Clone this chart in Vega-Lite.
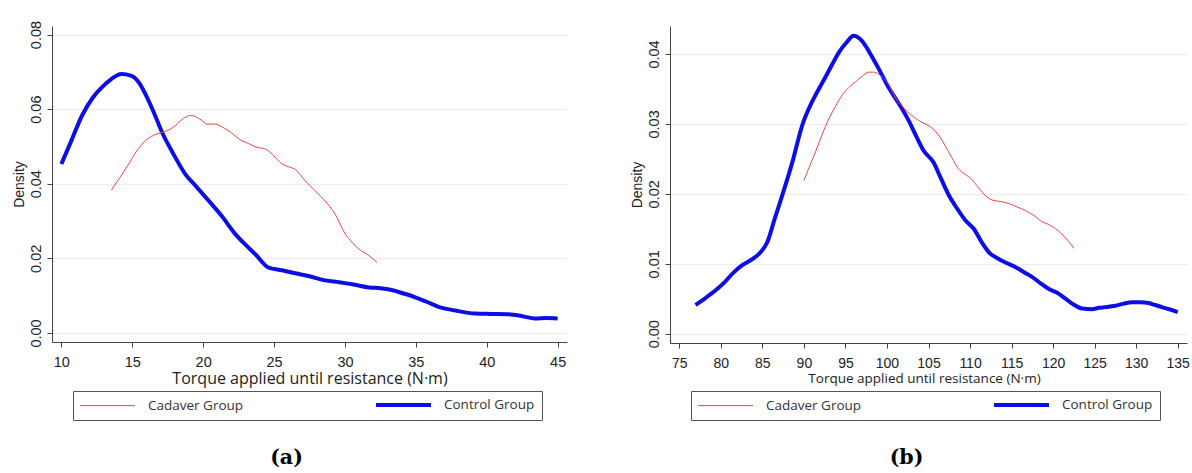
{
  "$schema": "https://vega.github.io/schema/vega-lite/v6.json",
  "background": "white",
  "padding": {"left": 12, "top": 20, "right": 5, "bottom": 0},
  "datasets": {
    "a": [
      {"group": "Control Group", "torque": 10, "density": 0.0453},
      {"group": "Control Group", "torque": 10.7, "density": 0.0515},
      {"group": "Control Group", "torque": 11.46, "density": 0.0583},
      {"group": "Control Group", "torque": 12.2, "density": 0.063},
      {"group": "Control Group", "torque": 12.87, "density": 0.0659},
      {"group": "Control Group", "torque": 13.5, "density": 0.068},
      {"group": "Control Group", "torque": 14.23, "density": 0.0694},
      {"group": "Control Group", "torque": 14.9, "density": 0.069},
      {"group": "Control Group", "torque": 15.5, "density": 0.067},
      {"group": "Control Group", "torque": 15.92, "density": 0.0641},
      {"group": "Control Group", "torque": 16.5, "density": 0.0593},
      {"group": "Control Group", "torque": 17.1, "density": 0.0538},
      {"group": "Control Group", "torque": 17.9, "density": 0.048},
      {"group": "Control Group", "torque": 18.74, "density": 0.0426},
      {"group": "Control Group", "torque": 19.5, "density": 0.0393},
      {"group": "Control Group", "torque": 20.4, "density": 0.0354},
      {"group": "Control Group", "torque": 21.3, "density": 0.0314},
      {"group": "Control Group", "torque": 22.27, "density": 0.0265},
      {"group": "Control Group", "torque": 23.0, "density": 0.0236},
      {"group": "Control Group", "torque": 23.68, "density": 0.0211},
      {"group": "Control Group", "torque": 24.62, "density": 0.0175},
      {"group": "Control Group", "torque": 25.56, "density": 0.0168},
      {"group": "Control Group", "torque": 26.5, "density": 0.016},
      {"group": "Control Group", "torque": 27.5, "density": 0.0152},
      {"group": "Control Group", "torque": 28.6, "density": 0.0141},
      {"group": "Control Group", "torque": 29.6, "density": 0.0136},
      {"group": "Control Group", "torque": 30.6, "density": 0.013},
      {"group": "Control Group", "torque": 31.7, "density": 0.0122},
      {"group": "Control Group", "torque": 32.5, "density": 0.012},
      {"group": "Control Group", "torque": 33.3, "density": 0.0115},
      {"group": "Control Group", "torque": 34.2, "density": 0.0105},
      {"group": "Control Group", "torque": 35.0, "density": 0.0095},
      {"group": "Control Group", "torque": 35.8, "density": 0.0083},
      {"group": "Control Group", "torque": 36.6, "density": 0.007},
      {"group": "Control Group", "torque": 37.8, "density": 0.006},
      {"group": "Control Group", "torque": 39.2, "density": 0.0052},
      {"group": "Control Group", "torque": 40.3, "density": 0.0051},
      {"group": "Control Group", "torque": 41.55, "density": 0.005},
      {"group": "Control Group", "torque": 42.5, "density": 0.0045},
      {"group": "Control Group", "torque": 43.4, "density": 0.0039},
      {"group": "Control Group", "torque": 44.2, "density": 0.004},
      {"group": "Control Group", "torque": 45, "density": 0.0039},
      {"group": "Cadaver Group", "torque": 13.53, "density": 0.0383},
      {"group": "Cadaver Group", "torque": 14.1, "density": 0.0415},
      {"group": "Cadaver Group", "torque": 14.75, "density": 0.0453},
      {"group": "Cadaver Group", "torque": 15.3, "density": 0.0487},
      {"group": "Cadaver Group", "torque": 15.92, "density": 0.0515},
      {"group": "Cadaver Group", "torque": 16.5, "density": 0.053},
      {"group": "Cadaver Group", "torque": 17.1, "density": 0.0538},
      {"group": "Cadaver Group", "torque": 17.6, "density": 0.0545},
      {"group": "Cadaver Group", "torque": 18.04, "density": 0.0556},
      {"group": "Cadaver Group", "torque": 18.6, "density": 0.0575},
      {"group": "Cadaver Group", "torque": 19.1, "density": 0.0583},
      {"group": "Cadaver Group", "torque": 19.45, "density": 0.058},
      {"group": "Cadaver Group", "torque": 19.9, "density": 0.057},
      {"group": "Cadaver Group", "torque": 20.27, "density": 0.056},
      {"group": "Cadaver Group", "torque": 20.86, "density": 0.056},
      {"group": "Cadaver Group", "torque": 21.3, "density": 0.0553},
      {"group": "Cadaver Group", "torque": 21.8, "density": 0.0542},
      {"group": "Cadaver Group", "torque": 22.3, "density": 0.0527},
      {"group": "Cadaver Group", "torque": 22.74, "density": 0.0515},
      {"group": "Cadaver Group", "torque": 23.2, "density": 0.0508},
      {"group": "Cadaver Group", "torque": 23.68, "density": 0.0499},
      {"group": "Cadaver Group", "torque": 24.39, "density": 0.0493},
      {"group": "Cadaver Group", "torque": 24.9, "density": 0.0478},
      {"group": "Cadaver Group", "torque": 25.56, "density": 0.0453},
      {"group": "Cadaver Group", "torque": 26.0, "density": 0.0446},
      {"group": "Cadaver Group", "torque": 26.5, "density": 0.0438},
      {"group": "Cadaver Group", "torque": 27.2, "density": 0.0408},
      {"group": "Cadaver Group", "torque": 27.9, "density": 0.0381},
      {"group": "Cadaver Group", "torque": 28.6, "density": 0.0354},
      {"group": "Cadaver Group", "torque": 29.3, "density": 0.0319},
      {"group": "Cadaver Group", "torque": 30.03, "density": 0.0265},
      {"group": "Cadaver Group", "torque": 30.5, "density": 0.0243},
      {"group": "Cadaver Group", "torque": 30.97, "density": 0.0225},
      {"group": "Cadaver Group", "torque": 31.56, "density": 0.0211},
      {"group": "Cadaver Group", "torque": 32.26, "density": 0.0189}
    ],
    "b": [
      {"group": "Control Group", "torque": 76.96, "density": 0.0041},
      {"group": "Control Group", "torque": 77.8, "density": 0.0048},
      {"group": "Control Group", "torque": 79.37, "density": 0.0062},
      {"group": "Control Group", "torque": 80.4, "density": 0.0073},
      {"group": "Control Group", "torque": 81.4, "density": 0.0086},
      {"group": "Control Group", "torque": 82.58, "density": 0.0098},
      {"group": "Control Group", "torque": 83.58, "density": 0.0105},
      {"group": "Control Group", "torque": 84.59, "density": 0.0114},
      {"group": "Control Group", "torque": 85.6, "density": 0.0131},
      {"group": "Control Group", "torque": 86.5, "density": 0.0165},
      {"group": "Control Group", "torque": 87.4, "density": 0.0198},
      {"group": "Control Group", "torque": 88.6, "density": 0.0245},
      {"group": "Control Group", "torque": 89.8, "density": 0.0298},
      {"group": "Control Group", "torque": 91.0, "density": 0.0332},
      {"group": "Control Group", "torque": 91.8, "density": 0.035},
      {"group": "Control Group", "torque": 92.6, "density": 0.0367},
      {"group": "Control Group", "torque": 93.4, "density": 0.0385},
      {"group": "Control Group", "torque": 94.2, "density": 0.0402},
      {"group": "Control Group", "torque": 95.1, "density": 0.0416},
      {"group": "Control Group", "torque": 96.0, "density": 0.0426},
      {"group": "Control Group", "torque": 96.7, "density": 0.0422},
      {"group": "Control Group", "torque": 97.4, "density": 0.0412},
      {"group": "Control Group", "torque": 98.2, "density": 0.0396},
      {"group": "Control Group", "torque": 99.0, "density": 0.0379},
      {"group": "Control Group", "torque": 100.2, "density": 0.0352},
      {"group": "Control Group", "torque": 101.0, "density": 0.0337},
      {"group": "Control Group", "torque": 101.8, "density": 0.0322},
      {"group": "Control Group", "torque": 102.6, "density": 0.0305},
      {"group": "Control Group", "torque": 103.5, "density": 0.0283},
      {"group": "Control Group", "torque": 104.4, "density": 0.0262},
      {"group": "Control Group", "torque": 105.6, "density": 0.0245},
      {"group": "Control Group", "torque": 106.5, "density": 0.0222},
      {"group": "Control Group", "torque": 107.45, "density": 0.0198},
      {"group": "Control Group", "torque": 108.5, "density": 0.0178},
      {"group": "Control Group", "torque": 109.45, "density": 0.0162},
      {"group": "Control Group", "torque": 110.45, "density": 0.015},
      {"group": "Control Group", "torque": 111.5, "density": 0.0129},
      {"group": "Control Group", "torque": 112.3, "density": 0.0116},
      {"group": "Control Group", "torque": 113.3, "density": 0.0108},
      {"group": "Control Group", "torque": 114.4, "density": 0.0101},
      {"group": "Control Group", "torque": 115.5, "density": 0.0095},
      {"group": "Control Group", "torque": 116.5, "density": 0.0088},
      {"group": "Control Group", "torque": 117.5, "density": 0.0081},
      {"group": "Control Group", "torque": 118.5, "density": 0.0072},
      {"group": "Control Group", "torque": 119.5, "density": 0.0064},
      {"group": "Control Group", "torque": 120.7, "density": 0.0057},
      {"group": "Control Group", "torque": 121.5, "density": 0.005},
      {"group": "Control Group", "torque": 122.3, "density": 0.0043},
      {"group": "Control Group", "torque": 123.5, "density": 0.0036},
      {"group": "Control Group", "torque": 124.7, "density": 0.0035},
      {"group": "Control Group", "torque": 125.5, "density": 0.0037},
      {"group": "Control Group", "torque": 126.3, "density": 0.0038},
      {"group": "Control Group", "torque": 127.5, "density": 0.004},
      {"group": "Control Group", "torque": 128.5, "density": 0.0043},
      {"group": "Control Group", "torque": 129.5, "density": 0.0045},
      {"group": "Control Group", "torque": 130.5, "density": 0.0045},
      {"group": "Control Group", "torque": 131.5, "density": 0.0044},
      {"group": "Control Group", "torque": 132.3, "density": 0.0041},
      {"group": "Control Group", "torque": 133.1, "density": 0.0038},
      {"group": "Control Group", "torque": 134.0, "density": 0.0035},
      {"group": "Control Group", "torque": 135, "density": 0.0031},
      {"group": "Cadaver Group", "torque": 90.0, "density": 0.0219},
      {"group": "Cadaver Group", "torque": 90.7, "density": 0.024},
      {"group": "Cadaver Group", "torque": 91.4, "density": 0.026},
      {"group": "Cadaver Group", "torque": 92.2, "density": 0.0285},
      {"group": "Cadaver Group", "torque": 93.0, "density": 0.0307},
      {"group": "Cadaver Group", "torque": 93.8, "density": 0.0325},
      {"group": "Cadaver Group", "torque": 94.6, "density": 0.0341},
      {"group": "Cadaver Group", "torque": 95.4, "density": 0.0352},
      {"group": "Cadaver Group", "torque": 96.2, "density": 0.036},
      {"group": "Cadaver Group", "torque": 97.0, "density": 0.0368},
      {"group": "Cadaver Group", "torque": 97.8, "density": 0.0374},
      {"group": "Cadaver Group", "torque": 98.4, "density": 0.0374},
      {"group": "Cadaver Group", "torque": 99.0, "density": 0.0371},
      {"group": "Cadaver Group", "torque": 99.6, "density": 0.0365},
      {"group": "Cadaver Group", "torque": 100.2, "density": 0.0357},
      {"group": "Cadaver Group", "torque": 100.6, "density": 0.0347},
      {"group": "Cadaver Group", "torque": 101.2, "density": 0.0334},
      {"group": "Cadaver Group", "torque": 101.8, "density": 0.0326},
      {"group": "Cadaver Group", "torque": 102.4, "density": 0.0318},
      {"group": "Cadaver Group", "torque": 103.0, "density": 0.0312},
      {"group": "Cadaver Group", "torque": 103.8, "density": 0.0305},
      {"group": "Cadaver Group", "torque": 104.6, "density": 0.03},
      {"group": "Cadaver Group", "torque": 105.2, "density": 0.0296},
      {"group": "Cadaver Group", "torque": 105.8, "density": 0.029},
      {"group": "Cadaver Group", "torque": 106.4, "density": 0.0281},
      {"group": "Cadaver Group", "torque": 107.0, "density": 0.0269},
      {"group": "Cadaver Group", "torque": 107.8, "density": 0.0252},
      {"group": "Cadaver Group", "torque": 108.6, "density": 0.0236},
      {"group": "Cadaver Group", "torque": 109.4, "density": 0.0228},
      {"group": "Cadaver Group", "torque": 110.2, "density": 0.0221},
      {"group": "Cadaver Group", "torque": 110.8, "density": 0.0212},
      {"group": "Cadaver Group", "torque": 111.5, "density": 0.0202},
      {"group": "Cadaver Group", "torque": 112.1, "density": 0.0195},
      {"group": "Cadaver Group", "torque": 112.7, "density": 0.0191},
      {"group": "Cadaver Group", "torque": 113.7, "density": 0.0189},
      {"group": "Cadaver Group", "torque": 114.7, "density": 0.0186},
      {"group": "Cadaver Group", "torque": 115.7, "density": 0.0181},
      {"group": "Cadaver Group", "torque": 116.7, "density": 0.0176},
      {"group": "Cadaver Group", "torque": 117.7, "density": 0.0169},
      {"group": "Cadaver Group", "torque": 118.7, "density": 0.016},
      {"group": "Cadaver Group", "torque": 119.5, "density": 0.0156},
      {"group": "Cadaver Group", "torque": 120.3, "density": 0.015},
      {"group": "Cadaver Group", "torque": 121.0, "density": 0.0143},
      {"group": "Cadaver Group", "torque": 121.5, "density": 0.0137},
      {"group": "Cadaver Group", "torque": 122.0, "density": 0.013},
      {"group": "Cadaver Group", "torque": 122.5, "density": 0.0122}
    ]
  },
  "spacing": 103,
  "bounds": "flush",
  "resolve": {
    "scale": {"color": "independent", "strokeWidth": "independent", "x": "independent", "y": "independent"},
    "legend": {"color": "independent", "strokeWidth": "independent"}
  },
  "hconcat": [
    {
      "width": 515,
      "height": 316,
      "title": {"text": "(a)", "orient": "bottom", "offset": 27, "dx": -23},
      "data": {"name": "a"},
      "mark": {"type": "line", "interpolate": "monotone"},
      "encoding": {
        "x": {
          "field": "torque", "type": "quantitative",
          "scale": {"domain": [9.34, 45.66], "nice": false, "zero": false},
          "axis": {"values": [10, 15, 20, 25, 30, 35, 40, 45], "title": "Torque applied until resistance (N·m)", "titleFontSize": 16, "titlePadding": 2}
        },
        "y": {
          "field": "density", "type": "quantitative",
          "scale": {"domain": [-0.00243, 0.0823], "nice": false, "zero": false},
          "axis": {"values": [0, 0.02, 0.04, 0.06, 0.08], "format": ".2f", "title": "Density"}
        },
        "color": {
          "field": "group", "type": "nominal",
          "scale": {"domain": ["Cadaver Group", "Control Group"], "range": ["#e8463f", "#0d0de6"]},
          "legend": {"title": null}
        },
        "strokeWidth": {
          "field": "group", "type": "ordinal",
          "scale": {"domain": ["Cadaver Group", "Control Group"], "range": [1, 4]},
          "legend": {"title": null}
        }
      }
    },
    {
      "width": 517,
      "height": 317,
      "title": {"text": "(b)", "orient": "bottom", "offset": 27, "dx": -22},
      "data": {"name": "b"},
      "mark": {"type": "line", "interpolate": "monotone"},
      "encoding": {
        "x": {
          "field": "torque", "type": "quantitative",
          "scale": {"domain": [73.88, 136.12], "nice": false, "zero": false},
          "axis": {"values": [75, 80, 85, 90, 95, 100, 105, 110, 115, 120, 125, 130, 135], "title": "Torque applied until resistance (N·m)", "titleFontSize": 13.5, "labelFontSize": 14, "titleX": 254, "titleY": 28}
        },
        "y": {
          "field": "density", "type": "quantitative",
          "scale": {"domain": [-0.00133, 0.044], "nice": false, "zero": false},
          "axis": {"values": [0, 0.01, 0.02, 0.03, 0.04], "format": ".2f", "title": "Density"}
        },
        "color": {
          "field": "group", "type": "nominal",
          "scale": {"domain": ["Cadaver Group", "Control Group"], "range": ["#e8463f", "#0d0de6"]},
          "legend": {"title": null}
        },
        "strokeWidth": {
          "field": "group", "type": "ordinal",
          "scale": {"domain": ["Cadaver Group", "Control Group"], "range": [1, 4]},
          "legend": {"title": null}
        }
      }
    }
  ],
  "config": {
    "view": {"stroke": null},
    "title": {"font": "DejaVu Serif", "fontSize": 20.5, "fontWeight": "bold", "color": "#000000", "anchor": "middle"},
    "axis": {
      "domainColor": "#444444", "tickColor": "#444444", "tickSize": 5,
      "labelFont": "Liberation Sans", "labelFontSize": 14.5, "labelColor": "#222222",
      "titleColor": "#222222", "gridColor": "#ececec"
    },
    "axisX": {
      "grid": false, "labelPadding": 8, "titlePadding": 1,
      "titleFont": "Open Sans", "titleFontSize": 15.5, "titleFontWeight": "normal"
    },
    "axisY": {
      "grid": true, "labelAngle": -90, "labelAlign": "center", "labelBaseline": "bottom", "labelPadding": 4,
      "titleFont": "Liberation Sans", "titleFontSize": 14, "titleFontWeight": "normal", "titlePadding": 2
    },
    "legend": {
      "orient": "none", "legendX": 21, "legendY": 365,
      "direction": "horizontal", "columns": 2, "columnPadding": 124,
      "symbolType": "M-3.375,0H24.125", "symbolSize": 16, "labelOffset": 54.5,
      "labelFont": "Open Sans", "labelFontSize": 13.5, "labelColor": "#333333",
      "strokeColor": "#555555", "padding": 7
    }
  }
}
